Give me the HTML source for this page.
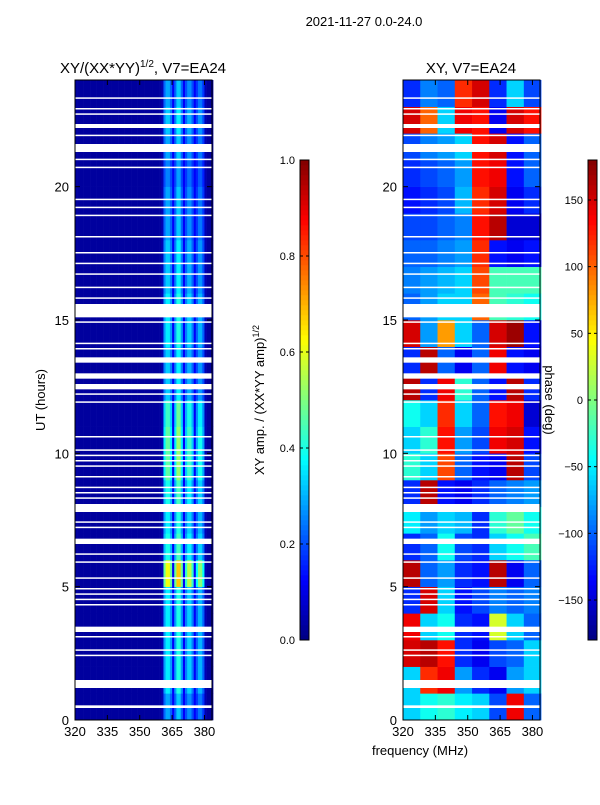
<!DOCTYPE html>
<html><head><meta charset="utf-8"><style>
body{margin:0;background:#fff;}
svg text{font-family:"Liberation Sans",sans-serif;fill:#000;}
</style></head><body>
<svg id="fig" width="600" height="800" xmlns="http://www.w3.org/2000/svg">
<rect width="600" height="800" fill="#fff"/>
<text x="364" y="26" font-size="13" text-anchor="middle">2021-11-27 0.0-24.0</text>
<text x="143" y="73" font-size="15" text-anchor="middle">XY/(XX*YY)<tspan font-size="10" dy="-6">1/2</tspan><tspan dy="6">, V7=EA24</tspan></text>
<text x="471" y="73" font-size="15" text-anchor="middle">XY, V7=EA24</text>
<text transform="translate(45,400) rotate(-90)" font-size="13" text-anchor="middle">UT (hours)</text>
<text x="420" y="755" font-size="13" text-anchor="middle">frequency (MHz)</text>
<text transform="translate(264,400) rotate(-90)" font-size="13" text-anchor="middle">XY amp. / (XX*YY amp)<tspan font-size="9" dy="-5">1/2</tspan></text>
<g id="left"></g>
<g id="right"></g>
<g id="axes"></g>
<text transform="translate(545,400) rotate(90)" font-size="13" text-anchor="middle">phase (deg)</text>
</svg>
<script>
const channels=[];for(let f=320;f<384;f++)channels.push(f);
const ampProfile=[0.03,0.03,0.03,0.03,0.03,0.03,0.03,0.03,0.03,0.03,0.03,0.03,0.03,0.03,0.03,0.03,0.03,0.03,0.03,0.03,0.03,0.03,0.03,0.03,0.03,0.03,0.03,0.03,0.03,0.03,0.03,0.03,0.03,0.03,0.03,0.03,0.03,0.03,0.03,0.03,0.05,0.28,0.36,0.36,0.28,0.12,0.28,0.4,0.4,0.28,0.12,0.25,0.33,0.33,0.25,0.12,0.22,0.3,0.3,0.22,0.05,0.03,0.03,0.03];
const hourScale=[0.8,1,1,1,1,1.7,1.1,1,1.1,1.3,1.3,1.2,0.9,0.9,1,1,0.9,0.9,0.8,0.8,0.7,0.8,0.9,0.8];
const flagStart=[0.45,1.2,3.3,6.6,7.8,12.4,12.8,13.4,15.1,21.3,22.2,2.4,2.6,3.1,4.3,4.5,4.7,4.9,5.3,5.9,6.2,7.2,7.4,8.3,8.5,8.7,9.1,9.5,9.7,9.9,10.1,10.6,11.9,12.2,13.9,14.1,14.9,15.8,16.2,16.7,17.1,17.5,18.1,18.9,19.2,19.5,20.7,21.0,21.9,22.7,22.9,23.3];
const flagEnd=[0.55,1.5,3.5,6.8,8.1,12.6,13.0,13.6,15.6,21.6,22.35,2.45,2.65,3.15,4.35,4.55,4.75,4.95,5.35,5.95,6.25,7.25,7.45,8.35,8.55,8.75,9.15,9.55,9.75,9.95,10.15,10.65,11.95,12.25,13.95,14.15,14.95,15.85,16.25,16.75,17.15,17.55,18.15,18.95,19.25,19.55,20.75,21.05,21.95,22.75,22.95,23.35];
const phaseCols=[320,328,336,344,352,360,368,376];
const phase=[
[-60,-40,-30,-50,-60,-110,140,-100],[-60,120,140,-80,-120,-140,-80,-60],[150,160,130,-120,-140,-110,-100,-60],
[140,-60,-40,-120,-130,30,-60,-100],[-120,150,-60,-130,-110,-90,-100,-90],[160,-100,-80,-120,-130,160,-140,-100],
[-120,-100,-40,-110,-120,-60,-40,-20],[-50,-80,-60,-70,-120,-30,-10,-40],[-120,160,-130,-140,-120,-100,-90,-80],
[-30,-60,110,-100,-130,-140,160,-110],[-60,-30,130,-80,-110,140,150,-130],[-40,-60,120,-60,-100,130,140,-150],
[160,-120,140,-30,-100,-130,160,-120],[-120,160,-100,-140,-100,140,-130,-140],[150,-80,80,-60,-100,150,170,-130],
[-100,-80,-60,-60,100,-20,-30,-40],[-90,-80,-70,-60,110,-20,-20,-20],[-100,-100,-90,-80,120,-130,-140,-130],
[-110,-110,-100,-90,130,160,-150,-150],[-130,-120,-110,-70,120,150,-140,-120],[-120,-110,-100,-80,130,140,-130,-100],
[-110,-90,-80,-60,130,150,-130,-100],[150,100,-60,140,130,-140,150,130],[-120,-90,-100,120,150,-120,-60,-110]];
const xTicks=[320,335,350,365,380], yTicks=[0,5,10,15,20];
const ampTicks=[0,0.2,0.4,0.6,0.8,1.0], phTicks=[-150,-100,-50,0,50,100,150];

const NS="http://www.w3.org/2000/svg";
function jet(v){v=Math.max(0,Math.min(1,v));const c=x=>Math.round(255*Math.max(0,Math.min(1,1.5-Math.abs(4*v-x))));return `rgb(${c(3)},${c(2)},${c(1)})`;}
function el(t,a,p){const e=document.createElementNS(NS,t);for(const k in a)e.setAttribute(k,a[k]);p.appendChild(e);return e;}
const T=80,B=720;
const y=h=>B-(h/24)*(B-T);
const xL=f=>75+(f-320)*137/63.5, xR=f=>403+(f-320)*137/63.5;
const L=document.getElementById('left'),R=document.getElementById('right'),A=document.getElementById('axes');
for(let h=0;h<24;h++)for(let i=0;i<channels.length;i++){
 const r=el('rect',{x:xL(channels[i]),y:y(h+1),width:xL(channels[i]+1)-xL(channels[i])+0.3,height:y(h)-y(h+1)+0.3,fill:jet(ampProfile[i]*(ampProfile[i]>0.15?hourScale[h]:1))},L);
 
 
}
for(let h=0;h<24;h++)for(let j=0;j<phaseCols.length;j++){
 const r=el('rect',{x:xR(phaseCols[j]),y:y(h+1),width:xR(phaseCols[j]+8)-xR(phaseCols[j])+0.3,height:y(h)-y(h+1)+0.3,fill:jet((phase[h][j]+180)/360)},R);
 
 
}
for(let k=0;k<flagStart.length;k++){
 for(const [g,x0] of [[L,75],[R,403]]){
  const r=el('rect',{x:x0,y:y(flagEnd[k]),width:137,height:Math.max(1.5,y(flagStart[k])-y(flagEnd[k])),fill:'#fff'},g);
  
  
 }
}
function axes(x0,xf){
 el('rect',{x:x0,y:T,width:137,height:B-T,fill:'none',stroke:'#000','stroke-width':1},A);
 xTicks.forEach(t=>{const X=xf(t);el('line',{x1:X,x2:X,y1:B,y2:B-5,stroke:'#000'},A);el('line',{x1:X,x2:X,y1:T,y2:T+5,stroke:'#000'},A);
  const tx=el('text',{x:X,y:B+16,'font-size':13,'text-anchor':'middle'},A);tx.textContent=t;
  
  });
 yTicks.forEach(t=>{const Y=y(t);el('line',{x1:x0,x2:x0+5,y1:Y,y2:Y,stroke:'#000'},A);el('line',{x1:x0+137,x2:x0+132,y1:Y,y2:Y,stroke:'#000'},A);
  const tx=el('text',{x:x0-6,y:Y+5,'font-size':13,'text-anchor':'end'},A);tx.textContent=t;
  
  });
}
axes(75,xL);axes(403,xR);
function cbar(x0,ticks,lo,hi){
 for(let i=0;i<96;i++){el('rect',{x:x0,y:640-(i+1)*5,width:9,height:5.3,fill:jet((i+0.5)/96)},A);}
 el('rect',{x:x0,y:160,width:9,height:480,fill:'none',stroke:'#000'},A);
 ticks.forEach(t=>{const Y=640-(t-lo)/(hi-lo)*480;el('line',{x1:x0,x2:x0+3,y1:Y,y2:Y,stroke:'#000'},A);el('line',{x1:x0+9,x2:x0+6,y1:Y,y2:Y,stroke:'#000'},A);
  const tx=el('text',{x:x0-5,y:Y+4,'font-size':11,'text-anchor':'end'},A);tx.textContent=lo<0?String(t).replace('-','\u2212'):t.toFixed(1);
  
  });
}
cbar(300,ampTicks,0,1);cbar(588,phTicks,-180,180);
</script>
</body></html>
